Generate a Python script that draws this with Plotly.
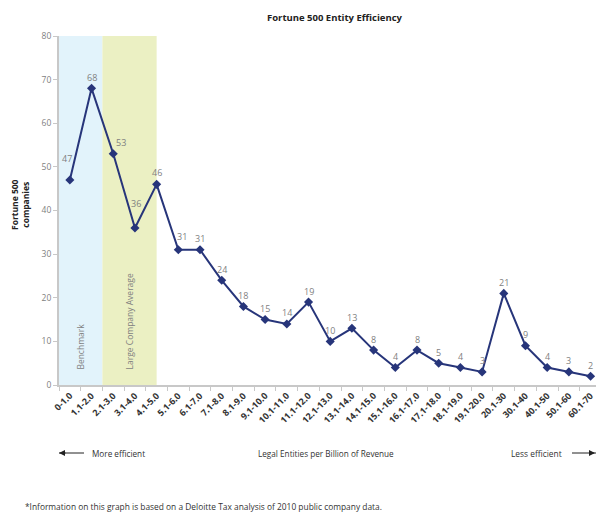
import plotly.graph_objects as go

categories = ["0-1.0", "1.1-2.0", "2.1-3.0", "3.1-4.0", "4.1-5.0", "5.1-6.0", "6.1-7.0",
              "7.1-8.0", "8.1-9.0", "9.1-10.0", "10.1-11.0", "11.1-12.0", "12.1-13.0",
              "13.1-14.0", "14.1-15.0", "15.1-16.0", "16.1-17.0", "17.1-18.0", "18.1-19.0",
              "19.1-20.0", "20.1-30", "30.1-40", "40.1-50", "50.1-60", "60.1-70"]
companies = [47, 68, 53, 36, 46, 31, 31, 24, 18, 15, 14, 19, 10, 13, 8, 4, 8, 5, 4, 3,
             21, 9, 4, 3, 2]
y_ticks = [0, 10, 20, 30, 40, 50, 60, 70, 80]

FONT = "Open Sans"
LINE = "#27357a"
GRAY = "#7f7f7f"

xi = list(range(len(categories)))

# label offsets (pixels) relative to each point – styling only
label_dx = [-3, 0, 8, 1, 0, 4] + [0] * (len(categories) - 6)
label_dy = [21, 11, 11, 24, 12, 13] + [11] * (len(categories) - 6)

ARROW_Y = -(453 - 385) / 349
NOTE_Y = -(506 - 385) / 349

fig = go.Figure()

fig.add_trace(go.Scatter(
    x=xi, y=companies, mode="lines+markers",
    line=dict(color=LINE, width=2),
    marker=dict(symbol="diamond", size=7, color=LINE),
    cliponaxis=False, hoverinfo="skip", showlegend=False,
))

shapes = [
    dict(type="rect", xref="x", yref="y", x0=-0.5, x1=1.5, y0=0, y1=80,
         fillcolor="#e2f3fb", line=dict(width=0), layer="below"),
    dict(type="rect", xref="x", yref="y", x0=1.5, x1=4, y0=0, y1=80,
         fillcolor="#ebf0c3", line=dict(width=0), layer="below"),
    # arrows at bottom
    dict(type="line", xref="paper", yref="paper", x0=0.0, x1=(84 - 59) / 537, y0=ARROW_Y, y1=ARROW_Y,
         line=dict(color="#222222", width=1)),
    dict(type="line", xref="paper", yref="paper", x0=(572 - 59) / 537, x1=1.0, y0=ARROW_Y, y1=ARROW_Y,
         line=dict(color="#222222", width=1)),
]

annotations = [
    dict(text=str(v), xref="x", yref="y", x=i, y=v, xshift=dx, yshift=dy,
         xanchor="center", yanchor="middle",
         showarrow=False, font=dict(family=FONT, size=9, color=GRAY))
    for i, v, dx, dy in zip(xi, companies, label_dx, label_dy)
]

annotations += [
    dict(text="<b>Fortune 500 Entity Efficiency</b>", xref="paper", yref="paper",
         x=(335 - 59) / 537, y=1.0, yshift=19, xanchor="center", yanchor="middle",
         showarrow=False, font=dict(family=FONT, size=9.5, color="#222222")),
    dict(text="<b>Fortune 500<br>companies</b>", xref="paper", yref="paper",
         x=0, xshift=-39, xanchor="center", y=(385 - 205) / 349, yanchor="middle",
         textangle=-90, showarrow=False, font=dict(family=FONT, size=8.5, color="#222222")),
    dict(text="Benchmark", xref="x", yref="y", x=0.5, y=3, textangle=-90,
         yanchor="bottom", showarrow=False, font=dict(family=FONT, size=8.5, color=GRAY)),
    dict(text="Large Company Average", xref="x", yref="y", x=2.75, y=3, textangle=-90,
         yanchor="bottom", showarrow=False, font=dict(family=FONT, size=8.5, color=GRAY)),
    dict(text="More efficient", xref="paper", yref="paper", x=(90 - 59) / 537, y=ARROW_Y,
         xanchor="left", yanchor="middle", showarrow=False,
         font=dict(family=FONT, size=8.2, color="#333333")),
    dict(text="Legal Entities per Billion of Revenue", xref="paper", yref="paper",
         x=(326 - 59) / 537, y=ARROW_Y, xanchor="center", yanchor="middle", showarrow=False,
         font=dict(family=FONT, size=8.2, color="#333333")),
    dict(text="Less efficient", xref="paper", yref="paper", x=(564 - 59) / 537, y=ARROW_Y,
         xanchor="right", yanchor="middle", showarrow=False,
         font=dict(family=FONT, size=8.4, color="#333333")),
    dict(text="*Information on this graph is based on a Deloitte Tax analysis of 2010 public company data.",
         xref="paper", yref="paper", x=(23 - 59) / 537, y=NOTE_Y, xanchor="left", yanchor="middle",
         showarrow=False, font=dict(family=FONT, size=8.4, color="#333333")),
    # arrow heads
    dict(text="", xref="paper", yref="paper", x=0.0, y=ARROW_Y, ax=8, ay=0,
         showarrow=True, arrowhead=2, arrowsize=1.2, arrowwidth=1, arrowcolor="#222222"),
    dict(text="", xref="paper", yref="paper", x=1.0, y=ARROW_Y, ax=-8, ay=0,
         showarrow=True, arrowhead=2, arrowsize=1.2, arrowwidth=1, arrowcolor="#222222"),
]

fig.update_layout(
    width=596, height=514,
    margin=dict(l=59, r=0, t=36, b=129),
    paper_bgcolor="white", plot_bgcolor="white",
    shapes=shapes, annotations=annotations,
    font=dict(family=FONT),
    xaxis=dict(
        range=[-0.5, 24.25], tickmode="array", tickvals=xi,
        ticktext=["<b>%s</b>" % c for c in categories],
        tickangle=-45, showgrid=False, zeroline=False,
        showline=True, linecolor="#c8c8c8", linewidth=2,
        ticks="", tickfont=dict(family=FONT, size=9, color="#333333"),
    ),
    yaxis=dict(
        range=[0, 80], tickmode="array", tickvals=y_ticks, showgrid=False, zeroline=False,
        showline=True, linecolor="#c8c8c8", linewidth=2,
        ticks="outside", ticklen=4, tickcolor="#c8c8c8",
        tickfont=dict(family=FONT, size=8.5, color=GRAY),
    ),
)

# minor tick marks at category boundaries
fig.update_xaxes(minor=dict(tickmode="array", tickvals=[i - 0.5 for i in xi] + [24.5],
                            ticks="outside", ticklen=4, tickcolor="#c8c8c8"))

fig.write_html("out.html")
